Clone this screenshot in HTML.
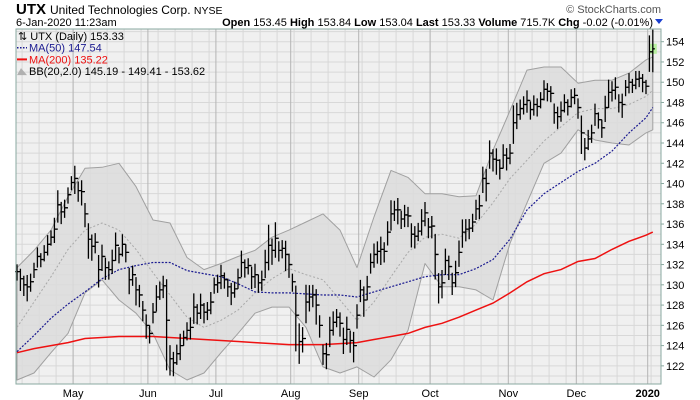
<!DOCTYPE html>
<html><head><meta charset="utf-8">
<style>
body{margin:0;background:#fff;font-family:"Liberation Sans",sans-serif;}
svg{display:block}
</style></head>
<body>
<svg id="chart" width="700" height="400" xmlns="http://www.w3.org/2000/svg" font-family="Liberation Sans, sans-serif">
<text x="16" y="14" font-size="15" font-weight="bold" fill="#000">UTX</text>
<text x="50" y="14" font-size="12" fill="#000">United Technologies Corp. <tspan font-size="10.5">NYSE</tspan></text>
<text x="16" y="26" font-size="11" fill="#000">6-Jan-2020 11:23am</text>
<text x="661" y="13" font-size="11" fill="#555" text-anchor="end">© StockCharts.com</text>
<text x="653" y="26" font-size="11" fill="#000" text-anchor="end"><tspan font-weight="bold">Open</tspan> 153.45 <tspan font-weight="bold">High</tspan> 153.84 <tspan font-weight="bold">Low</tspan> 153.04 <tspan font-weight="bold">Last</tspan> 153.33 <tspan font-weight="bold">Volume</tspan> 715.7K <tspan font-weight="bold">Chg</tspan> -0.02 (-0.01%)</text>
<path d="M655,19 L663,19 L659,24 Z" fill="#1a3fd0"/>
<g id="plot"></g>
</svg>
<script>
const closes=[131.3,130.6,130.0,129.8,130.3,131.5,132.8,132.5,133.2,134.0,
134.7,135.5,137.9,137.2,137.6,138.9,140.1,140.5,139.3,139.2,
137.0,134.5,133.8,134.2,131.5,132.8,131.7,131.5,132.4,133.9,
133.0,134.0,133.2,130.5,131.0,129.5,129.0,127.5,126.0,125.2,
127.3,128.8,129.5,129.9,126.5,122.7,122.3,123.2,124.0,124.8,
125.5,125.8,127.8,127.2,128.0,127.3,127.5,128.3,130.0,130.2,
130.9,130.5,129.8,129.2,129.6,130.7,132.2,131.7,131.9,130.8,
131.0,130.2,130.5,132.2,133.9,133.4,134.6,133.4,133.6,133.0,
132.0,130.3,127.0,124.4,124.7,128.3,128.8,129.0,128.0,126.0,
123.2,123.1,125.5,126.3,126.8,126.2,124.6,125.6,124.5,124.0,
127.0,129.5,128.5,129.8,132.2,133.0,133.3,133.5,133.3,135.2,
137.0,137.4,137.4,136.5,136.9,136.8,135.0,134.8,135.3,136.3,
137.1,135.7,135.8,133.0,129.8,130.2,132.4,131.8,130.2,131.2,
133.2,135.2,135.5,135.6,136.2,137.5,137.8,140.5,140.0,143.0,
142.4,142.3,141.5,142.8,142.5,143.0,146.0,146.8,147.4,147.8,
148.2,147.3,147.8,147.6,148.3,149.3,149.1,148.9,147.0,146.6,
147.2,148.0,147.6,148.5,148.7,147.5,145.0,143.5,144.4,145.0,
146.9,146.3,145.5,147.5,149.0,149.2,149.5,148.0,147.8,149.5,
150.0,149.7,150.3,150.4,150.0,149.6,153.0,153.3];
const spreads=[1.6,2.2,2.0,2.6,1.8,1.5,2.0,1.4,1.6,2.0,
1.5,2.5,3.2,2.2,1.8,1.6,1.4,2.8,2.0,2.5,
2.4,3.5,2.6,2.0,3.2,2.6,2.2,1.8,2.4,2.8,
1.6,2.2,1.8,2.6,2.0,2.8,2.2,2.0,2.4,1.8,
2.0,2.6,1.8,2.2,9.0,3.0,2.4,2.0,2.6,1.5,
1.8,2.2,3.0,2.0,2.5,2.0,1.8,2.2,1.6,1.8,
2.4,1.6,1.8,2.2,1.6,2.0,2.6,1.8,1.6,2.2,
2.4,1.8,2.0,2.8,4.5,2.6,3.5,2.0,1.8,3.0,
2.4,1.8,6.5,4.0,2.5,3.8,2.6,2.2,3.5,2.2,
2.0,2.6,3.0,2.4,1.8,2.4,2.6,2.8,2.2,3.0,
2.4,2.2,3.0,2.4,2.0,2.4,2.2,2.8,2.0,2.4,
3.0,2.0,2.6,1.8,2.2,2.0,2.4,2.2,1.8,2.6,
2.4,2.0,2.2,4.5,3.0,2.8,2.6,2.4,2.2,2.6,
2.6,2.8,2.2,2.0,1.8,2.0,2.4,2.6,3.2,2.8,
2.2,2.6,2.0,2.4,2.2,2.0,3.8,2.6,2.0,1.8,
2.2,1.8,2.0,1.8,1.6,2.0,1.8,1.6,2.0,2.2,
2.0,1.8,1.6,1.8,1.6,2.0,3.8,2.2,2.0,1.8,
2.2,1.6,1.8,2.6,2.8,2.0,2.2,1.8,2.4,1.6,
2.0,1.4,1.8,1.6,1.8,1.4,3.6,4.2];
const overlayIdx=[0,5,10,15,20,25,30,35,40,45,50,55,60,65,70,75,80,85,90,95,100,105,110,115,120,125,130,135,140,145,150,155,160,165,170,175,180,185,187];
const ma200=[123.3,123.7,124.0,124.3,124.7,124.8,124.9,124.9,124.9,124.8,124.7,124.6,124.5,124.4,124.3,124.2,124.1,124.1,124.1,124.2,124.3,124.6,124.9,125.2,125.8,126.2,126.8,127.5,128.2,129.2,130.3,131.1,131.5,132.3,132.6,133.5,134.3,134.9,135.2];
const ma50=[123.4,125.0,126.7,128.1,129.3,130.6,131.5,131.9,132.2,132.2,131.4,131.1,130.8,130.1,129.3,129.2,129.2,129.1,129.0,129.0,128.8,129.3,129.8,130.3,130.8,131.0,131.0,131.6,132.5,134.5,137.4,139.0,140.1,141.2,142.0,143.2,145.0,146.5,147.5];
const bbMid=[125.8,128.3,130.8,133.5,135.4,136.1,135.4,133.5,131.2,129.0,126.8,125.8,126.5,127.5,129.2,130.6,131.6,131.0,130.5,128.5,126.5,128.3,130.8,133.2,134.7,135.0,134.6,136.0,138.1,140.5,142.3,144.2,145.6,147.0,147.4,147.4,147.8,148.6,149.2];
const bbUp=[131.7,133.4,135.4,138.7,141.5,141.6,142.0,139.7,136.4,136.1,132.7,131.5,132.1,132.8,133.4,134.7,135.4,136.2,137.0,135.4,131.7,136.7,141.3,140.6,139.0,139.0,138.7,138.8,143.3,147.2,151.2,151.5,151.5,149.9,150.2,150.2,150.9,152.2,152.5];
const bbLow=[120.6,121.3,123.3,125.2,129.2,130.5,128.5,127.2,125.2,121.6,120.6,121.3,123.3,125.2,127.2,127.8,127.8,125.8,121.9,121.3,121.9,120.9,122.6,125.5,132.1,129.8,129.8,129.5,128.5,134.1,138.1,142.0,143.0,145.3,144.3,144.0,143.8,145.0,145.3];
const priceTicks=[122,124,126,128,130,132,134,136,138,140,142,144,146,148,150,152,154];
const monthLabels=["May","Jun","Jul","Aug","Sep","Oct","Nov","Dec","2020"];
const monthIdx=[17,39,59,81,101,122,145,165,186];

const L=16,R=661,T=29,B=384;
const NS="http://www.w3.org/2000/svg";
const g=document.getElementById('plot');
function X(i){return 17+3.4*i;}
function Y(v){return 41.7+(154-v)*10.13;}
function mk(tag,attrs,parent){const e=document.createElementNS(NS,tag);for(const k in attrs)e.setAttribute(k,attrs[k]);(parent||g).appendChild(e);return e;}

const bg=mk('rect',{x:L,y:T,width:R-L,height:B-T,fill:'#f0f0f0'});


for(let v=121;v<=155;v++){const y=Y(v);if(y<T||y>B)continue;
 const l=mk('line',{x1:L,x2:R,y1:y,y2:y,stroke:'#d8d8d8','stroke-width':1});
 
 }
for(let i=2;i<190;i+=5){const x=X(i)-1.7;if(x>R)break;
 const l=mk('line',{x1:x,x2:x,y1:T,y2:B,stroke:'#d8d8d8','stroke-width':1});
 
 }
monthIdx.forEach((mi,k)=>{const x=X(mi)-1.7;
 const l=mk('line',{x1:x,x2:x,y1:T,y2:B,stroke:'#b4b4b4','stroke-width':1});
 
 
 const t=mk('text',{x:x,y:397,'font-size':11,'text-anchor':'middle',fill:'#000','font-weight':monthLabels[k]==='2020'?'bold':'normal'});
 t.textContent=monthLabels[k];
 
 });
priceTicks.forEach(p=>{const y=Y(p);
 const t=mk('text',{x:666,y:y+4,'font-size':11,fill:'#000'});t.textContent=p;
 
 
 const tk=mk('line',{x1:R,x2:R+3,y1:y,y2:y,stroke:'#8aa9a0'});
 
 });

function pts(arr){return overlayIdx.map((ii,k)=>X(ii)+','+Y(arr[k]).toFixed(1));}
const band=mk('polygon',{points:pts(bbUp).concat(pts(bbLow).reverse()).join(' '),fill:'#dcdcdc','fill-opacity':0.85,stroke:'#a0a0a0','stroke-width':1,'stroke-linejoin':'round'});


const mid=mk('polyline',{points:pts(bbMid).join(' '),fill:'none',stroke:'#a8a8a8','stroke-width':1,'stroke-dasharray':'2,2'});


const m2=mk('polyline',{points:pts(ma200).join(' '),fill:'none',stroke:'#ee1111','stroke-width':1.5});


const m5=mk('polyline',{points:pts(ma50).join(' '),fill:'none',stroke:'#1a1a90','stroke-width':1.2,'stroke-dasharray':'2,1.5'});



const hl=mk('rect',{x:X(187)-3,y:Y(153.3)-5,width:7,height:10,fill:'#b8f0a0'});


closes.forEach((c,i)=>{const x=X(i),s=spreads[i];const hi=c+s*0.45,lo=c-s*0.55;const o=i>0?closes[i-1]:c;
 const bar=mk('path',{d:`M${x},${Y(hi)}V${Y(lo)}M${x-2},${Y(o)}H${x}M${x},${Y(c)}H${x+2}`,stroke:'#000','stroke-width':1.3,fill:'none'});
 
 });

const border=mk('rect',{x:L,y:T,width:R-L,height:B-T,fill:'none',stroke:'#8aa9a0','stroke-width':1});



const leg=[["⇅ UTX (Daily) 153.33","#000",null],["MA(50) 147.54","#1a1a90","dot"],["MA(200) 135.22","#ee1111","line"],["BB(20,2.0) 145.19 - 149.41 - 153.62","#000","area"]];
leg.forEach((e,k)=>{const y=39+k*11.7;
 if(e[2]==='dot'){const s=mk('line',{x1:17,x2:27,y1:y-3,y2:y-3,stroke:e[1],'stroke-width':1.5,'stroke-dasharray':'1.5,1.5'});}
 if(e[2]==='line'){const s=mk('line',{x1:17,x2:27,y1:y-3,y2:y-3,stroke:e[1],'stroke-width':2});}
 if(e[2]==='area'){const s=mk('path',{d:`M17,${y+1}L21,${y-6}L27,${y+1}Z`,fill:'#b0b0b0'});}
 const t=mk('text',{x:e[2]?29:18,y:y+1,'font-size':11,fill:e[1]});t.textContent=e[0];
 
 });
</script>
</body></html>
